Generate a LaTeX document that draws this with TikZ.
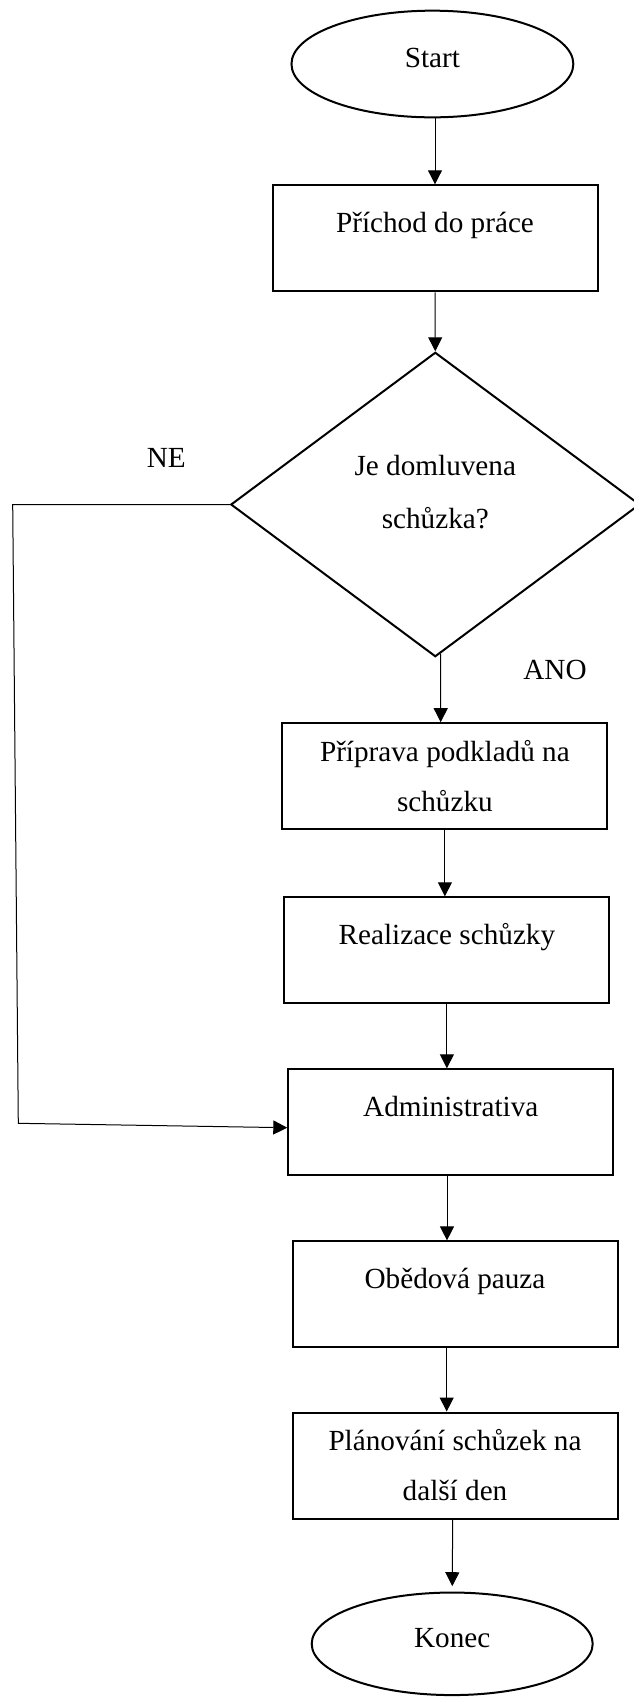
\documentclass[tikz,border=0pt]{standalone}
\usepackage{fontspec}
\setmainfont{Liberation Serif}
\usetikzlibrary{shapes.geometric,arrows.meta,calc}

\tikzset{
  flowbox/.style={draw, line width=1.5pt, minimum width=243.75pt, minimum height=79.5pt, inner sep=0pt, align=center},
  onerow/.style={flowbox, text height=15pt, text depth=23.6pt},
  tworow/.style={flowbox},
  endcap/.style={draw, ellipse, line width=1.5pt, inner sep=0pt, text height=15pt, text depth=10pt},
  question/.style={draw, diamond, line width=1.5pt, minimum width=306.75pt, minimum height=228.3pt, inner sep=0pt, align=center, text depth=19pt, font=\fontsize{21.9}{39.2}\selectfont},
  arr/.style={line width=0.75pt, -{Triangle[length=10.5pt,width=10.5pt]}}
}

\begin{document}
\begin{tikzpicture}[x=0.75pt,y=0.75pt,yscale=-1,xscale=1,font=\fontsize{21.9}{37.5}\selectfont]
\useasboundingbox (0,0) rectangle (633,1697);
%Shape: Ellipse
\node [endcap, minimum width=211.4pt, minimum height=80pt] (start) at (432.4,64) {Start};
%Shape: Rectangle
\node [onerow] (prichod) at (435,238.3) {Příchod do práce};
%Shape: Diamond
\node [question] (schuzka) at (435.3,504.5) {Je domluvena\\schůzka?};
%Shape: Rectangle
\node [tworow] (priprava) at (444.9,776.2) {Příprava podkladů na\\schůzku};
\node [onerow] (realizace) at (446.9,950.3) {Realizace schůzky};
\node [onerow] (admin) at (450.8,1122.3) {Administrativa};
\node [onerow] (obed) at (455,1294.4) {Obědová pauza};
\node [tworow] (planovani) at (455,1465.5) {Plánování schůzek na\\další den};
%Shape: Ellipse
\node [endcap, minimum width=210.75pt, minimum height=76.9pt] (konec) at (452.2,1643.8) {Konec};
% Text Node
\node (ne) at (166.3,458.3) {NE};
% Text Node
\node (ano) at (555,670) {ANO};
%Straight Lines
\draw [arr] (start.south -| prichod.north) -- (prichod.north);
\draw [arr] (prichod.south) -- (schuzka.north);
\draw [arr] ($(schuzka.south)+(5.4,-4)$) -- ($(priprava.north)+(-4.2,0)$);
\draw [arr] (priprava.south) -- (priprava.south |- realizace.north);
\draw [arr] (realizace.south) -- (realizace.south |- admin.north);
\draw [arr] ($(admin.south)+(-3.8,0)$) -- ($(admin.south |- obed.north)+(-3.8,0)$);
\draw [arr] ($(obed.south)+(-8.3,0)$) -- ($(planovani.north)+(-8.3,0)$);
\draw [arr, shorten >=4pt] ($(planovani.south)+(-2.3,0)$) -- (konec.north);
%Straight Lines (NE branch)
\coordinate (neTop) at (12.7,504.5);
\coordinate (neBot) at (18.3,1123.3);
\draw [arr] (schuzka.west) -- (neTop) -- (neBot) -- ($(admin.west)+(0,5.4)$);
\end{tikzpicture}
\end{document}
